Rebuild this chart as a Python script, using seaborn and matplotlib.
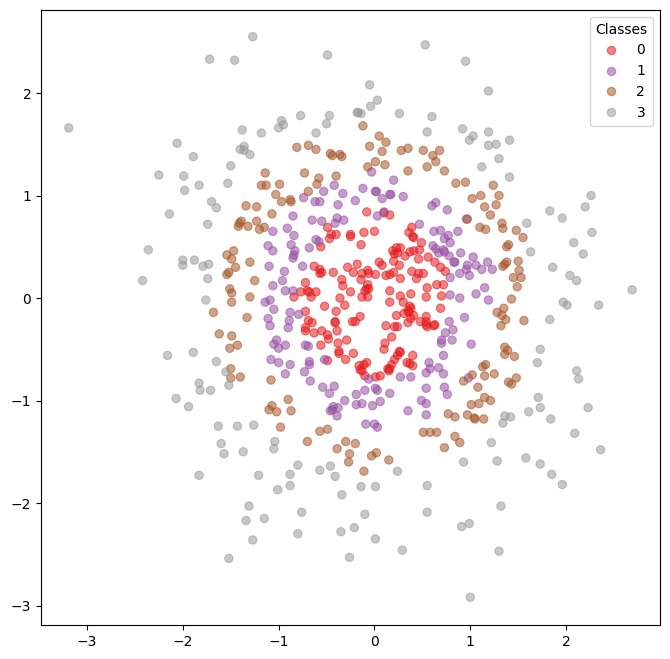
import pandas as pd
import seaborn as sns
import matplotlib
matplotlib.use("Agg")
import matplotlib.pyplot as plt

# points, one list per class
class_0 = [
    (-0.08,0.84),(0.10,0.83),(0.16,0.81),(-0.49,0.69),(-0.45,0.62),(-0.47,0.58),(-0.40,0.62),(-0.25,0.62),
    (-0.25,0.60),(-0.11,0.64),(0.00,0.65),(-0.14,0.52),(-0.56,0.50),(0.39,0.69),(0.36,0.64),(0.40,0.60),
    (0.41,0.59),(0.49,0.54),(0.47,0.47),(0.41,0.46),(0.37,0.45),(0.27,0.49),(0.23,0.49),(0.19,0.46),
    (0.24,0.44),(0.21,0.43),(0.32,0.41),(0.20,0.36),(0.46,0.38),(0.56,0.40),(0.63,0.35),(0.69,0.30),
    (0.74,0.26),(0.26,0.32),(0.05,0.35),(0.08,0.32),(-0.28,0.30),(-0.18,0.33),(-0.22,0.25),(-0.13,0.24),
    (-0.07,0.27),(-0.06,0.24),(0.01,0.23),(-0.14,0.18),(0.12,0.22),(0.16,0.23),(0.20,0.25),(0.39,0.26),
    (0.46,0.24),(0.51,0.24),(0.44,0.19),(0.27,0.19),(-0.63,0.31),(-0.57,0.28),(-0.55,0.25),(-0.57,0.24),
    (-0.43,0.25),(-0.34,0.18),(-0.33,0.12),(-0.72,0.15),(-0.77,0.06),(-0.70,0.07),(-0.68,0.06),(-0.61,0.06),
    (-0.84,0.01),(-0.66,0.01),(-0.25,0.06),(-0.07,0.13),(-0.08,0.09),(-0.06,0.09),(-0.10,0.07),(-0.13,0.01),
    (-0.07,0.01),(-0.36,0.00),(-0.31,-0.07),(-0.52,-0.08),(-0.40,-0.13),(0.16,0.07),(0.16,-0.04),(0.27,0.02),
    (0.30,-0.04),(0.38,0.04),(0.55,0.10),(0.65,0.13),(0.72,0.13),(0.54,0.01),(0.70,0.02),(0.69,-0.10),
    (0.37,-0.08),(0.38,-0.10),(0.35,-0.12),(0.36,-0.14),(0.31,-0.15),(0.23,-0.17),(0.41,-0.17),(0.38,-0.20),
    (0.35,-0.24),(0.48,-0.23),(0.54,-0.18),(0.54,-0.23),(0.54,-0.26),(0.55,-0.28),(0.62,-0.27),(0.63,-0.26),
    (0.12,-0.27),(0.21,-0.28),(0.24,-0.28),(0.18,-0.38),(0.11,-0.44),(0.10,-0.50),(-0.15,-0.18),(-0.20,-0.23),
    (-0.23,-0.23),(-0.72,-0.13),(-0.69,-0.22),(-0.65,-0.24),(-0.72,-0.29),(-0.72,-0.32),(-0.63,-0.34),(-0.55,-0.32),
    (-0.41,-0.24),(-0.41,-0.23),(-0.39,-0.32),(-0.49,-0.36),(-0.48,-0.40),(-0.56,-0.46),(-0.29,-0.41),(-0.38,-0.44),
    (-0.37,-0.52),(-0.37,-0.54),(-0.22,-0.54),(-0.30,-0.60),(-0.49,-0.61),(0.26,-0.52),(0.27,-0.53),(0.24,-0.56),
    (0.21,-0.60),(0.40,-0.56),(0.34,-0.63),(0.37,-0.64),(0.40,-0.66),(0.18,-0.65),(0.14,-0.69),(0.16,-0.69),
    (0.15,-0.71),(-0.08,-0.63),(-0.11,-0.65),(-0.16,-0.66),(-0.15,-0.70),(-0.13,-0.71),(-0.10,-0.76),(0.01,-0.77),
    (0.06,-0.76),
]
class_1 = [
    (-0.03,1.23),(0.20,1.15),(-0.42,1.10),(-0.12,1.07),(0.01,1.04),(0.02,1.04),(-0.53,1.04),(-0.33,1.02),
    (0.17,1.01),(0.16,1.01),(0.08,0.97),(0.30,0.99),(-0.74,0.98),(-0.62,0.94),(-0.57,0.94),(-0.38,0.91),
    (-0.20,0.95),(0.64,0.93),(0.60,0.90),(0.76,0.86),(-0.85,0.80),(0.10,0.84),(0.03,0.80),
    (-0.65,0.76),(-0.55,0.75),(-0.39,0.78),(-0.32,0.76),(-0.41,0.73),(-0.91,0.68),(-1.06,0.65),(-0.84,0.61),
    (-0.61,0.57),(-0.58,0.55),(-1.11,0.51),(-0.87,0.52),(-0.68,0.49),(-1.06,0.46),(-0.83,0.46),(-0.84,0.42),
    (-0.85,0.39),(-1.10,0.31),(-0.75,0.31),(-0.94,0.26),(-0.96,0.17),(-1.06,0.12),(-0.93,0.07),(-0.85,0.07),
    (-1.09,-0.02),(-1.14,-0.04),(-1.05,-0.11),(-0.88,-0.14),(-0.79,-0.16),(-1.11,-0.20),(-0.89,-0.22),(-1.09,-0.27),
    (-0.90,-0.29),(-1.02,-0.41),(-1.05,-0.45),(-0.93,-0.46),(-1.00,-0.49),(-0.72,-0.46),(-0.69,-0.47),(-1.08,-0.60),
    (-1.00,-0.63),(-0.88,-0.65),(-0.68,-0.62),(-0.68,-0.65),(-0.52,-0.60),(-0.93,-0.74),(-0.73,-0.72),(-0.67,-0.81),
    (-0.54,-0.87),(-0.42,-0.86),(-0.47,-0.93),(-0.31,-1.00),(-0.19,-0.94),(-0.10,-0.90),(0.01,-0.88),(0.03,-0.90),
    (0.16,-0.93),(-0.06,-0.79),(0.27,-0.77),(0.38,-0.77),(0.54,-0.73),(0.58,-0.69),(0.57,-0.63),(0.67,-0.68),
    (0.72,-0.74),(0.54,-0.88),(0.73,-0.87),(0.76,-0.94),(0.49,-1.00),(0.54,-1.03),(0.35,-1.10),(0.54,-1.14),
    (-0.19,-1.04),(-0.13,-1.03),(-0.02,-1.05),(0.06,-1.01),(-0.38,-1.07),(-0.43,-1.06),(-0.46,-1.10),(-0.44,-1.09),
    (-0.39,-1.15),(0.72,-0.56),(0.70,-0.41),(0.70,-0.44),(0.81,-0.41),(0.74,-0.34),(0.82,-0.31),(0.78,-0.23),
    (0.79,0.03),(0.79,0.20),(0.47,0.72),(0.62,0.65),(0.69,0.66),(0.77,0.61),(0.73,0.58),(0.79,0.54),
    (0.61,0.51),(0.64,0.48),(0.72,0.47),(0.67,0.44),(0.73,0.45),(0.78,0.41),(0.83,0.35),(0.84,0.35),
    (0.87,0.65),(0.96,0.77),(0.90,0.44),(1.03,0.40),(0.97,0.32),(1.06,0.32),(0.96,0.28),(0.89,0.24),
    (0.99,0.22),(1.12,0.28),(1.18,0.35),(1.23,0.28),(1.15,0.10),(1.06,0.04),(0.89,0.00),(1.19,-0.02),
    (0.94,-0.19),(1.01,-0.45),(0.98,-0.78),(-0.09,-1.23),(0.00,-1.23),(0.03,-1.26),
]
class_2 = [
    (-1.34,0.90),(-1.39,0.75),(-1.41,0.73),(-1.42,0.70),(-1.32,0.70),(-1.47,0.46),(-1.54,0.42),(-1.49,0.38),
    (-1.45,0.30),(-1.30,0.35),(-1.52,0.25),(-1.54,0.23),(-1.51,0.09),(-1.49,0.05),(-1.49,-0.04),(-1.30,0.01),
    (-1.68,-0.14),(-1.33,-0.19),(-1.62,-0.35),(-1.49,-0.37),(-1.43,-0.46),(-1.51,-0.49),(-1.50,-0.69),(-1.50,-0.78),
    (-1.40,-0.77),(-0.12,1.68),(0.05,1.58),(0.12,1.52),(-0.05,1.48),(0.08,1.43),(-0.81,1.47),(-0.69,1.49),
    (-0.61,1.45),(-0.46,1.41),(-0.44,1.39),(-0.36,1.40),(-0.34,1.38),(0.28,1.44),(0.35,1.46),(0.51,1.44),
    (0.68,1.44),(0.61,1.39),(0.64,1.33),(0.55,1.28),(0.73,1.24),(0.85,1.12),(0.35,1.24),(0.11,1.30),
    (0.01,1.33),(-0.07,1.28),(-0.73,1.22),(-1.14,1.22),(-1.18,1.10),(-1.13,1.10),(-0.99,1.11),(-0.58,1.17),
    (-0.60,1.11),(-0.40,1.19),(-0.69,1.04),(-1.03,1.01),(-0.97,0.94),(-0.88,0.96),(-0.87,0.94),(-1.23,0.89),
    (-1.07,0.82),(-1.23,0.75),(-1.20,0.67),(-1.15,0.69),(-1.25,0.17),(-1.08,-0.80),(-0.90,-0.99),(-1.07,-1.05),
    (-1.10,-1.09),(-1.02,-1.11),(-0.87,-1.10),(0.77,-1.13),(0.84,-1.16),(0.97,0.77),(1.21,0.81),(1.33,0.73),
    (1.10,0.69),(1.16,0.67),(1.34,0.68),(1.48,0.66),(1.55,0.59),(1.40,0.52),(1.38,0.50),(1.50,0.36),
    (1.38,0.35),(1.36,0.33),(1.34,0.31),(1.51,0.27),(1.45,0.20),(1.53,0.20),(1.49,0.11),(1.43,-0.01),
    (1.35,-0.10),(1.28,-0.14),(1.33,-0.17),(1.37,-0.21),(1.32,-0.27),(1.56,-0.22),(1.36,-0.48),(1.39,-0.51),
    (1.36,-0.55),(1.46,-0.57),(1.16,-0.65),(1.13,-0.67),(1.02,-0.75),(1.15,-0.76),(1.25,-0.74),(0.93,-0.81),
    (1.08,-0.87),(1.48,-0.78),(1.40,-0.82),(1.43,-0.84),(1.15,-0.97),(1.21,-1.00),(1.09,-1.03),(1.01,-1.04),
    (0.97,-1.14),(1.04,-1.17),(1.05,-1.18),(1.14,-1.18),(0.84,-1.35),(0.89,-1.41),(0.95,1.13),(1.24,1.10),
    (1.30,1.00),(1.11,1.00),(1.02,0.97),(1.15,0.89),(1.27,0.91),(-0.98,-1.26),(-0.57,-1.30),(-0.49,-1.28),
    (-0.70,-1.40),(-0.30,-1.40),(-0.20,-1.42),(-0.39,-1.47),(-0.26,-1.52),(-0.27,-1.60),(-0.03,-1.54),(0.02,-1.51),
    (0.15,-1.58),(-0.11,-1.69),(0.51,-1.31),(0.58,-1.31),(0.65,-1.31),(0.73,-1.46),
]
class_3 = [
    (-1.72,2.33),(-1.46,2.32),(-1.27,2.55),(-3.19,1.66),(-1.38,1.64),(-2.06,1.51),(-1.36,1.48),(-1.40,1.45),
    (-1.36,1.44),(-1.30,1.40),(-1.89,1.38),(-1.50,1.29),(-2.25,1.20),(-1.99,1.19),(-1.83,1.10),(-1.53,1.12),
    (-1.98,1.05),(-1.70,0.94),(-1.65,0.88),(-2.14,0.82),(-1.74,0.72),(-2.36,0.47),(-2.00,0.37),(-2.00,0.32),
    (-1.88,0.37),(-1.79,0.31),(-1.73,0.33),(-1.74,0.19),(-2.42,0.17),(-1.76,-0.02),(-2.16,-0.56),(-1.89,-0.53),
    (-1.65,-0.62),(-1.55,-0.72),(-1.52,-0.85),(-1.83,-0.83),(-1.82,-0.90),(-1.71,-0.90),(-2.07,-0.98),(-1.94,-1.06),
    (-1.63,-1.25),(-1.43,-1.25),(-1.60,-1.42),(-1.57,-1.52),(-1.37,-1.50),(-1.83,-1.73),(-1.31,-2.03),(-1.34,-2.17),
    (-1.52,-2.54),(-0.49,2.37),(0.53,2.47),(-0.05,2.08),(0.03,1.93),(-0.04,1.87),(-0.77,1.78),(-0.47,1.78),
    (-0.97,1.73),(-0.95,1.69),(-1.00,1.66),(-1.18,1.61),(-0.50,1.70),(-0.61,1.61),(-0.18,1.81),(-0.17,1.81),
    (-0.14,1.80),(0.26,1.80),(0.60,1.77),(0.55,1.62),(1.59,0.73),(1.96,0.78),(1.83,0.85),(2.27,0.64),
    (2.08,0.54),(1.63,0.45),(2.18,0.43),(1.86,0.30),(2.04,0.22),(2.11,0.17),(2.69,0.08),(1.97,-0.04),
    (2.01,-0.07),(2.34,-0.07),(1.83,-0.21),(1.73,-0.50),(1.70,-0.63),(2.11,-0.71),(2.13,-0.79),(1.71,-0.97),
    (1.73,-1.07),(1.61,-1.11),(2.23,-1.07),(1.36,-1.15),(1.42,-1.16),(1.84,-1.18),(0.95,2.31),(1.19,2.02),
    (0.92,1.65),(1.19,1.62),(1.03,1.58),(0.99,1.54),(1.19,1.49),(1.27,1.50),(1.41,1.54),(1.30,1.36),
    (1.12,1.28),(1.41,1.18),(2.26,1.00),(2.20,0.89),(-1.26,-1.24),(-1.04,-1.40),(-1.05,-1.47),(-0.80,-1.63),
    (-0.88,-1.72),(-1.21,-1.73),(-0.57,-1.68),(-0.46,-1.64),(-0.41,-1.74),(-0.88,-1.83),(-1.01,-1.87),(-0.34,-1.92),
    (-0.14,-1.84),(0.01,-1.84),(0.24,-1.69),(0.55,-1.83),(0.55,-2.09),(-0.10,-2.11),(-0.76,-2.09),(-1.15,-2.15),
    (-1.27,-2.36),(-0.80,-2.30),(-0.35,-2.28),(-0.21,-2.24),(0.01,-2.35),(0.29,-2.46),(-0.26,-2.53),(1.34,-1.22),
    (2.09,-1.32),(1.22,-1.41),(2.36,-1.48),(0.93,-1.60),(1.28,-1.59),(1.58,-1.56),(1.73,-1.62),(1.85,-1.72),
    (1.96,-1.82),(1.32,-2.03),(0.99,-2.20),(0.91,-2.23),(1.30,-2.47),(1.00,-2.92),
]
class_colors = ["#e41a1c", "#984ea3", "#a65628", "#999999"]

frames = []
for label, pts in enumerate([class_0, class_1, class_2, class_3]):
    part = pd.DataFrame(pts, columns=["x", "y"])
    part["cls"] = label
    frames.append(part)
df = pd.concat(frames, ignore_index=True)

fig = plt.figure(figsize=(6.7, 6.59), dpi=100)
ax = fig.add_axes([41 / 670, 1 - 625 / 659, 619 / 670, 615 / 659])

# thin edge in the fill colour, the ring is faint in the reference
sns.scatterplot(data=df, x="x", y="y", hue="cls", palette=class_colors, alpha=0.55,
                s=36, edgecolor="face", linewidth=0.8, legend="full", ax=ax)

ax.set_xlim(-3.48, 2.98)
ax.set_ylim(-3.19, 2.81)
ax.set_xlabel("")
ax.set_ylabel("")
ax.set_xticks([-3, -2, -1, 0, 1, 2])
ax.set_yticks([-3, -2, -1, 0, 1, 2])
ax.legend(title="Classes", loc="upper right")

plt.savefig("out.png", dpi=100)
